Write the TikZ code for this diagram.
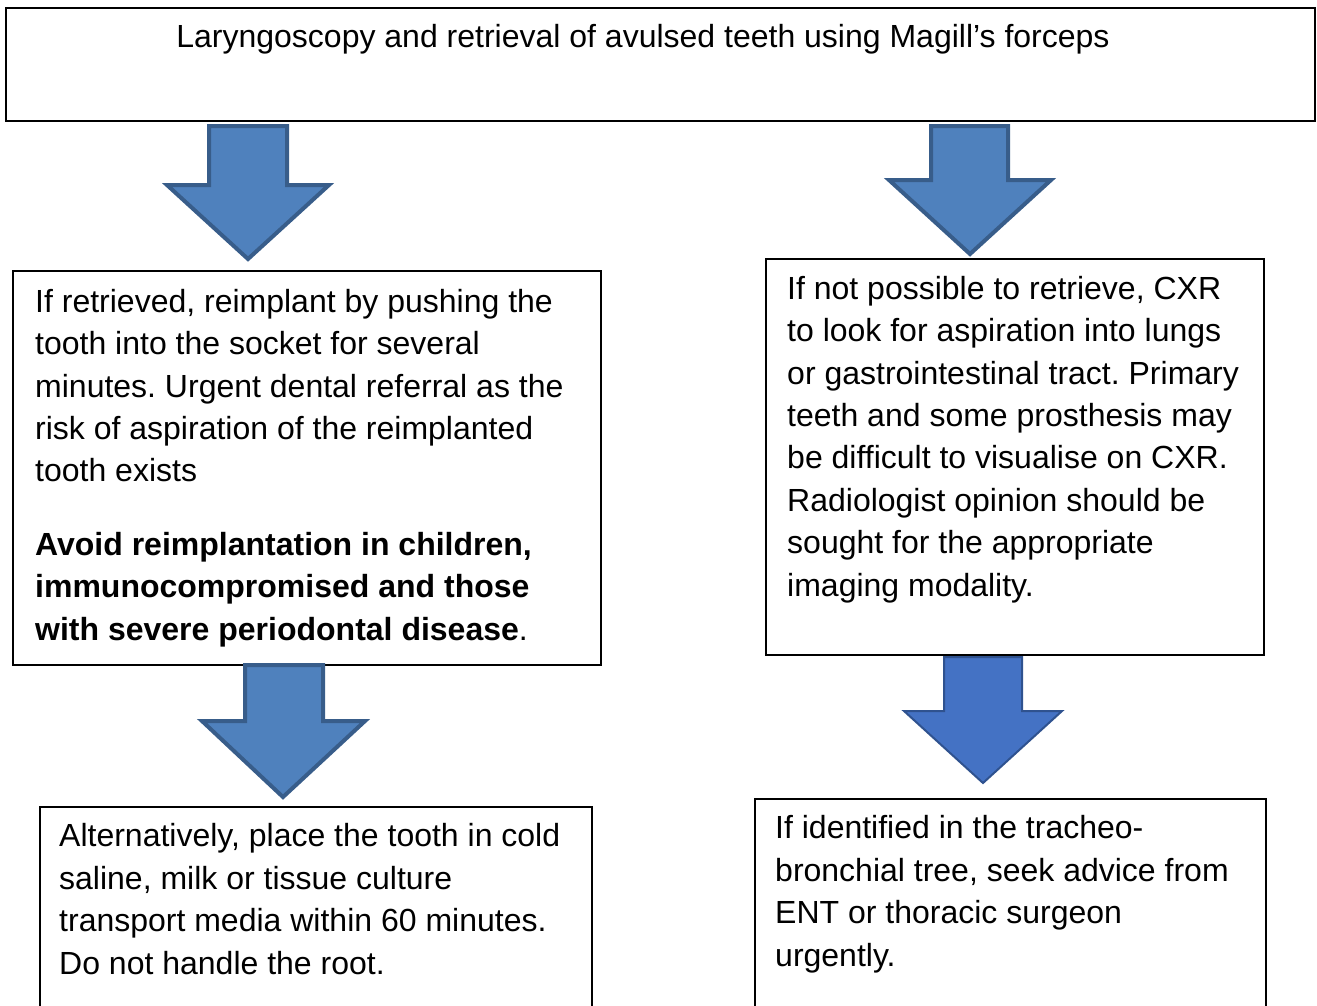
\documentclass[tikz,border=0pt]{standalone}
\usepackage{fontspec}
\setmainfont{Liberation Sans}
\frenchspacing
\definecolor{afill}{HTML}{4F81BD}
\definecolor{aline}{HTML}{385D8A}
\definecolor{bfill}{HTML}{4472C4}
\definecolor{bline}{HTML}{2F528F}
\begin{document}
\begin{tikzpicture}[x=1pt,y=-1pt,
  box/.style={draw=black, line width=1.6pt, anchor=north west, inner sep=0pt},
  txt/.style={anchor=base west, align=left, inner sep=0pt, font=\fontsize{32}{42.4}\selectfont},
  arrA/.style={fill=afill, draw=aline, line width=4pt, line join=miter},
  arrB/.style={fill=bfill, draw=bline, line width=2pt, line join=miter}]
\useasboundingbox (0,0) rectangle (1317,1005);
\clip (0,0) rectangle (1317,1005);
% boxes
\node[box, minimum width=1309pt, minimum height=113pt] (top) at (5,7) {};
\node[box, minimum width=588pt, minimum height=394pt] (left) at (12,270) {};
\node[box, minimum width=498pt, minimum height=396pt] (right) at (765,258) {};
\node[box, minimum width=552pt, minimum height=220pt] (leftb) at (39,806) {};
\node[box, minimum width=511pt, minimum height=220pt] (rightb) at (754,798) {};
% texts (base anchor = baseline of last line)
\node[txt, anchor=base] (ttop) at (643,47) {Laryngoscopy and retrieval of avulsed teeth using Magill’s forceps};
\node[txt] (tleft) at (35,640) {If retrieved, reimplant by pushing the\\
tooth into the socket for several\\
minutes. Urgent dental referral as the\\
risk of aspiration of the reimplanted\\
tooth exists\\[31pt]
\textbf{Avoid reimplantation in children,}\\
\textbf{immunocompromised and those}\\
\textbf{with severe periodontal disease}.};
\node[txt] (tright) at (787,596) {If not possible to retrieve, CXR\\
to look for aspiration into lungs\\
or gastrointestinal tract. Primary\\
teeth and some prosthesis may\\
be difficult to visualise on CXR.\\
Radiologist opinion should be\\
sought for the appropriate\\
imaging modality.};
\node[txt] (tleftb) at (59,974) {Alternatively, place the tooth in cold\\
saline, milk or tissue culture\\
transport media within 60 minutes.\\
Do not handle the root.};
\node[txt] (trightb) at (775,966) {If identified in the tracheo-\\
bronchial tree, seek advice from\\
ENT or thoracic surgeon\\
urgently.};
% block arrows
\draw[arrA] (209,126) -- (287,126) -- (287,185) -- (329,185) -- (248,259) -- (167,185) -- (209,185) -- cycle;
\draw[arrA] (931,126) -- (1008,126) -- (1008,180) -- (1051,180) -- (970,254) -- (889,180) -- (931,180) -- cycle;
\draw[arrA] (245,665) -- (323,665) -- (323,721) -- (365,721) -- (283,797) -- (202,721) -- (245,721) -- cycle;
\draw[arrB] (944,657) -- (1022,657) -- (1022,711) -- (1062,711) -- (983,783) -- (904,711) -- (944,711) -- cycle;
\end{tikzpicture}
\end{document}
